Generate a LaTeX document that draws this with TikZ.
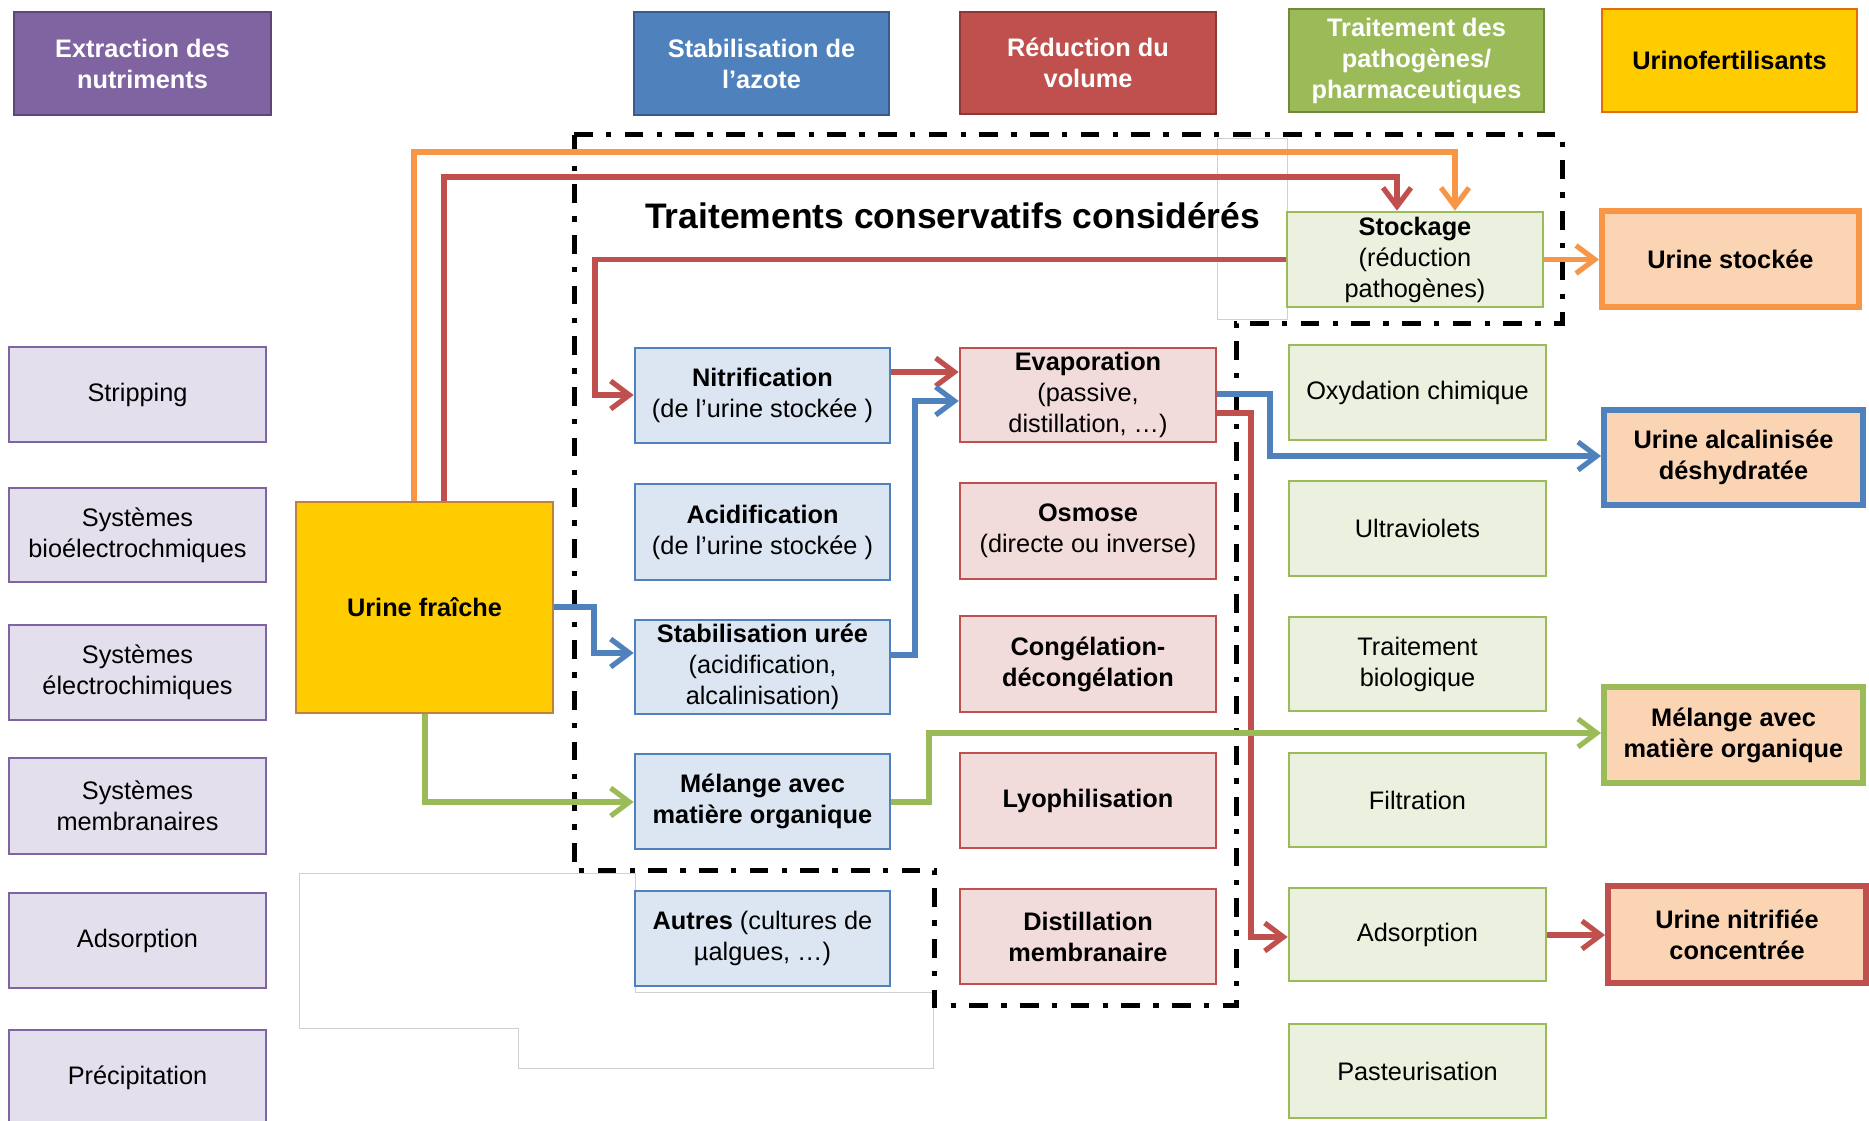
\documentclass[tikz,border=0pt]{standalone}
\usepackage{fontspec}
\setmainfont{Liberation Sans}
\usetikzlibrary{arrows.meta}
\definecolor{purH}{HTML}{8064A2}\definecolor{purB}{HTML}{5C4776}\definecolor{purL}{HTML}{E4DFEC}
\definecolor{bluH}{HTML}{4F81BD}\definecolor{bluB}{HTML}{385D8A}\definecolor{bluL}{HTML}{DCE6F2}
\definecolor{redH}{HTML}{C0504D}\definecolor{redB}{HTML}{8C3836}\definecolor{redL}{HTML}{F2DCDB}
\definecolor{grnH}{HTML}{9BBB59}\definecolor{grnB}{HTML}{71893F}\definecolor{grnL}{HTML}{EBF1DE}
\definecolor{yel}{HTML}{FFCC00}\definecolor{yelB}{HTML}{E46C0A}\definecolor{frB}{HTML}{C0803F}
\definecolor{org}{HTML}{F79646}\definecolor{outL}{HTML}{FBD4B4}\definecolor{artef}{HTML}{D0D0D0}
\newcommand\fs{\fontsize{19}{23.25}\selectfont}
\newcommand\bx[7]{\node[#6, minimum width={(#4-#2)*0.75pt}, minimum height={(#5-#3)*0.75pt}] (#1) at ({(#2+#4)/2},{(#3+#5)/2}) {#7};}
\tikzset{
  allbox/.style={inner sep=0pt, align=center, font=\fs, text=black},
  hdr/.style={allbox, line width=1.5pt, font=\fs\bfseries, text=white},
  purbox/.style={allbox, draw=purH, fill=purL, line width=2pt},
  blubox/.style={allbox, draw=bluH, fill=bluL, line width=2pt},
  redbox/.style={allbox, draw=redH, fill=redL, line width=2pt},
  grnbox/.style={allbox, draw=grnH, fill=grnL, line width=2pt},
  outbox/.style={allbox, fill=outL, line width=4.5pt, font=\fs\bfseries},
  conn/.style={line width=3.9pt, -{Straight Barb[length=14pt,width=21pt]}},
  ddot/.style={line width=3.75pt, dash pattern=on 14pt off 10pt on 4pt off 10pt},
}
\begin{document}
\begin{tikzpicture}[x=0.75pt,y=-0.75pt]
\useasboundingbox (0,0) rectangle (1869,1120);
\clip (0,0) rectangle (1869,1120);
\fill[white] (0,0) rectangle (1869,1120);
% faint artefacts
\draw[artef, line width=0.75pt] (1217,139) rectangle (1287,319);
\draw[artef, line width=0.75pt] (299,873) -- (635,873) -- (635,992) -- (933,992) -- (933,1068) -- (518,1068) -- (518,1028) -- (299,1028) -- cycle;
% dash-dot frame
\draw[ddot] (574,135) -- (1562,135) -- (1562,323) -- (1236,323) -- (1236,1005) -- (934,1005) -- (934,870) -- (574,870) -- cycle;
% headers
\bx{hExt}{14}{12}{271}{115}{hdr, draw=purB, fill=purH}{Extraction des\\nutriments}
\bx{hStab}{634}{12}{889}{115}{hdr, draw=bluB, fill=bluH}{Stabilisation de\\l’azote}
\bx{hRed}{960}{12}{1216}{114}{hdr, draw=redB, fill=redH}{Réduction du\\volume}
\bx{hPath}{1289}{9}{1544}{112}{hdr, draw=grnB, fill=grnH}{Traitement des\\pathogènes/\\pharmaceutiques}
\bx{hUri}{1602}{9}{1857}{112}{hdr, draw=yelB, fill=yel, text=black}{Urinofertilisants}
% title
\node[inner sep=0pt, anchor=base west, font=\bfseries\fontsize{26.6}{30}\selectfont] (title) at (645,228) {Traitements conservatifs considérés};
% left column
\bx{strip}{9}{347}{266}{442}{purbox}{Stripping}
\bx{bioel}{9}{488}{266}{582}{purbox}{Systèmes\\bioélectrochmiques}
\bx{elec}{9}{625}{266}{720}{purbox}{Systèmes\\électrochimiques}
\bx{memb}{9}{758}{266}{854}{purbox}{Systèmes\\membranaires}
\bx{adsL}{9}{893}{266}{988}{purbox}{Adsorption}
\bx{prec}{9}{1030}{266}{1125}{purbox}{Précipitation}
% fresh urine
\bx{fraiche}{296}{502}{553}{713}{allbox, draw=frB, fill=yel, line width=1.5pt, font=\fs\bfseries}{Urine fraîche}
% blue column
\bx{nitri}{635}{348}{890}{443}{blubox}{\textbf{Nitrification}\\(de l’urine stockée )}
\bx{acid}{635}{484}{890}{580}{blubox}{\textbf{Acidification}\\(de l’urine stockée )}
\bx{stab}{635}{620}{890}{714}{blubox}{\textbf{Stabilisation urée}\\(acidification,\\alcalinisation)}
\bx{melC}{635}{754}{890}{849}{blubox, font=\fs\bfseries}{Mélange avec\\matière organique}
\bx{autres}{635}{891}{890}{986}{blubox}{\textbf{Autres} (cultures de\\µalgues, …)}
% red column
\bx{evap}{960}{348}{1216}{442}{redbox}{\textbf{Evaporation}\\(passive,\\distillation, …)}
\bx{osm}{960}{483}{1216}{579}{redbox}{\textbf{Osmose}\\(directe ou inverse)}
\bx{cong}{960}{616}{1216}{712}{redbox, font=\fs\bfseries}{Congélation-\\décongélation}
\bx{lyo}{960}{753}{1216}{848}{redbox, font=\fs\bfseries}{Lyophilisation}
\bx{dist}{960}{889}{1216}{984}{redbox, font=\fs\bfseries}{Distillation\\membranaire}
% green column
\bx{stock}{1287}{212}{1543}{307}{grnbox}{\textbf{Stockage}\\(réduction\\pathogènes)}
\bx{oxy}{1289}{345}{1546}{440}{grnbox}{Oxydation chimique}
\bx{uv}{1289}{481}{1546}{576}{grnbox}{Ultraviolets}
\bx{bio}{1289}{617}{1546}{711}{grnbox}{Traitement\\biologique}
\bx{filt}{1289}{753}{1546}{847}{grnbox}{Filtration}
\bx{adsR}{1289}{888}{1546}{981}{grnbox}{Adsorption}
\bx{past}{1289}{1024}{1546}{1118}{grnbox}{Pasteurisation}
% outputs
\bx{ustock}{1602}{211}{1859}{307}{outbox, draw=org}{Urine stockée}
\bx{ualc}{1604}{410}{1863}{505}{outbox, draw=bluH}{Urine alcalinisée\\déshydratée}
\bx{melO}{1604}{687}{1863}{783}{outbox, draw=grnH}{Mélange avec\\matière organique}
\bx{unit}{1608}{886}{1866}{983}{outbox, draw=redH}{Urine nitrifiée\\concentrée}
% connectors
\coordinate (oA) at (414,152); \coordinate (oB) at (1455,152);
\draw[conn, org] (fraiche.north -| oA) -- (oA) -- (oB) -- (stock.north -| oB);
\coordinate (rA) at (444,177); \coordinate (rB) at (1397,177);
\draw[conn, redH] (fraiche.north -| rA) -- (rA) -- (rB) -- (stock.north -| rB);
\coordinate (rC) at (595,259.5); \coordinate (rD) at (595,395);
\draw[conn, redH] (stock.west |- rC) -- (rC) -- (rD) -- (nitri.west |- rD);
\draw[conn, org] (stock.east |- rC) -- (ustock.west |- rC);
\coordinate (rE) at (0,372);
\draw[conn, redH] (nitri.east |- rE) -- (evap.west |- rE);
\coordinate (bA) at (594,607); \coordinate (bB) at (594,653);
\draw[conn, bluH] (fraiche.east |- bA) -- (bA) -- (bB) -- (stab.west |- bB);
\coordinate (bC) at (915,655); \coordinate (bD) at (915,401);
\draw[conn, bluH] (stab.east |- bC) -- (bC) -- (bD) -- (evap.west |- bD);
\coordinate (bE) at (1270,394); \coordinate (bF) at (1270,456);
\draw[conn, bluH] (evap.east |- bE) -- (bE) -- (bF) -- (ualc.west |- bF);
\coordinate (rF) at (1251,413); \coordinate (rG) at (1251,937);
\draw[conn, redH] (evap.east |- rF) -- (rF) -- (rG) -- (adsR.west |- rG);
\coordinate (rH) at (0,935);
\draw[conn, redH] (adsR.east |- rH) -- (unit.west |- rH);
\coordinate (gA) at (425,802);
\draw[conn, grnH] (fraiche.south -| gA) -- (gA) -- (melC.west |- gA);
\coordinate (gB) at (929,802); \coordinate (gC) at (929,733);
\draw[conn, grnH] (melC.east |- gB) -- (gB) -- (gC) -- (melO.west |- gC);
\end{tikzpicture}
\end{document}
